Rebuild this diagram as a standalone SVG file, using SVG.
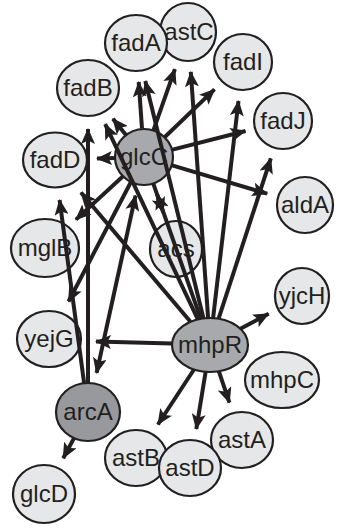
<svg xmlns="http://www.w3.org/2000/svg" width="344" height="529" viewBox="0 0 344 529">
<style>
.n ellipse{stroke:#231f20;stroke-width:2.2;fill:#e6e7e8}
.g ellipse{fill:#a7a9ac}
.d ellipse{fill:#97999c}
.n text{font-family:"Liberation Sans",Arial,sans-serif;font-size:24px;fill:#231f20;text-anchor:middle}
#edges line{stroke:#231f20;stroke-width:4;fill:none;marker-end:url(#arr)}
</style>
<defs>
<marker id="arr" viewBox="0 0 16 14" refX="15" refY="7" markerWidth="16" markerHeight="14" markerUnits="userSpaceOnUse" orient="auto-start-reverse">
<path d="M0,0 L16,7 L0,14 L3.5,7 z" fill="#231f20"/>
</marker>
</defs>
<rect width="344" height="529" fill="#fff"/>
<g id="astC" class="n"><ellipse cx="188" cy="32" rx="28" ry="29"/><text x="189" y="40">astC</text></g>
<g id="fadA" class="n"><ellipse cx="136" cy="43" rx="31" ry="28"/><text x="136" y="51">fadA</text></g>
<g id="fadI" class="n"><ellipse cx="243" cy="62" rx="29" ry="28"/><text x="243" y="70">fadI</text></g>
<g id="fadB" class="n"><ellipse cx="88" cy="88" rx="31" ry="28"/><text x="88" y="96">fadB</text></g>
<g id="fadJ" class="n"><ellipse cx="283" cy="121" rx="29" ry="28"/><text x="283" y="129">fadJ</text></g>
<g id="fadD" class="n"><ellipse cx="55" cy="160" rx="32" ry="27.5"/><text x="55" y="168">fadD</text></g>
<g id="glcC" class="n g"><ellipse cx="144" cy="157" rx="29" ry="28"/><text x="144" y="165">glcC</text></g>
<g id="aldA" class="n"><ellipse cx="305" cy="205" rx="28" ry="28"/><text x="305" y="213">aldA</text></g>
<g id="mglB" class="n"><ellipse cx="45" cy="248" rx="34" ry="29"/><text x="45" y="256">mglB</text></g>
<g id="acs" class="n"><ellipse cx="176" cy="249" rx="26" ry="28"/><text x="176" y="257">acs</text></g>
<g id="yjcH" class="n"><ellipse cx="302" cy="296" rx="27" ry="28"/><text x="302" y="304">yjcH</text></g>
<g id="yejG" class="n"><ellipse cx="49" cy="339" rx="32" ry="28"/><text x="49" y="347">yejG</text></g>
<g id="mhpR" class="n g"><ellipse cx="210" cy="345" rx="38" ry="27"/><text x="210" y="353">mhpR</text></g>
<g id="mhpC" class="n"><ellipse cx="282" cy="380" rx="37" ry="28"/><text x="282" y="388">mhpC</text></g>
<g id="arcA" class="n d"><ellipse cx="88" cy="412" rx="32" ry="29"/><text x="88" y="420">arcA</text></g>
<g id="astB" class="n"><ellipse cx="136" cy="458" rx="31" ry="28"/><text x="136" y="466">astB</text></g>
<g id="astA" class="n"><ellipse cx="242" cy="440" rx="31" ry="28"/><text x="242" y="448">astA</text></g>
<g id="astD" class="n"><ellipse cx="190" cy="468" rx="31" ry="28"/><text x="190" y="476">astD</text></g>
<g id="glcD" class="n"><ellipse cx="44" cy="494" rx="31" ry="29"/><text x="44" y="502">glcD</text></g>
<g id="edges">
<line x1="142" y1="128.5" x2="138.7" y2="82"/>
<line x1="153.5" y1="130.1" x2="174.9" y2="69.2"/>
<line x1="164.6" y1="137.3" x2="214.5" y2="89.4"/>
<line x1="171.6" y1="149.9" x2="245.5" y2="131"/>
<line x1="171.3" y1="165.1" x2="267.2" y2="193.7"/>
<line x1="115" y1="158" x2="97" y2="158.6"/>
<line x1="126" y1="134.9" x2="112.9" y2="118.7"/>
<line x1="123" y1="176.3" x2="75.9" y2="219.6"/>
<line x1="130.8" y1="182.3" x2="68.5" y2="301.5"/>
<line x1="135.5" y1="195.6" x2="96.6" y2="372.9" marker-start="url(#arr)"/>
<line x1="153.4" y1="183.9" x2="163.3" y2="212.4"/>
<line x1="200.8" y1="318.8" x2="157.1" y2="194.3"/>
<line x1="203.5" y1="318.4" x2="145.3" y2="81.1"/>
<line x1="208.1" y1="318" x2="190.8" y2="71.9"/>
<line x1="213.1" y1="318" x2="238.5" y2="100.9"/>
<line x1="218.6" y1="318.7" x2="270.8" y2="158.4"/>
<line x1="197.9" y1="319.4" x2="105.2" y2="124.1"/>
<line x1="190.5" y1="321.8" x2="81" y2="192.5"/>
<line x1="172" y1="343.6" x2="96" y2="341.5"/>
<line x1="240.4" y1="328.8" x2="268.6" y2="313.8"/>
<line x1="194" y1="369.5" x2="157.9" y2="424.5"/>
<line x1="205.6" y1="372" x2="196.3" y2="429"/>
<line x1="218.9" y1="371.4" x2="229.4" y2="402.6"/>
<line x1="88" y1="383" x2="88" y2="129"/>
<line x1="84.1" y1="383.1" x2="59.6" y2="200"/>
<line x1="74" y1="438.1" x2="63.2" y2="458.2"/>
</g>
</svg>
